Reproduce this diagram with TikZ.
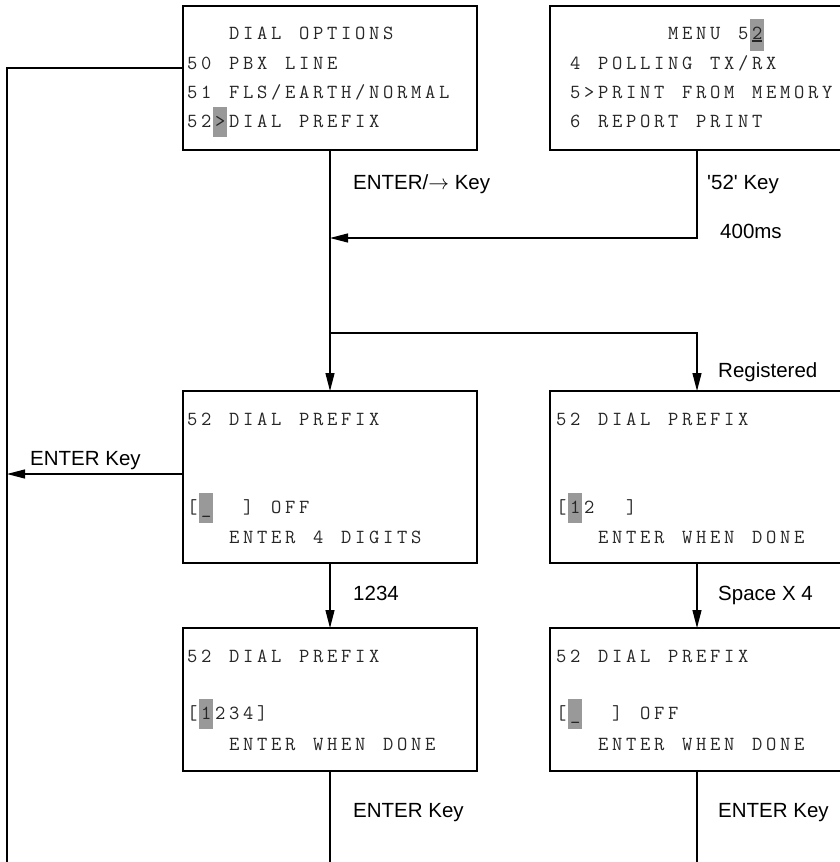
\documentclass[tikz,border=0pt]{standalone}
\usepackage{fontspec}
\setmainfont{Liberation Sans}
\usetikzlibrary{arrows.meta}
\definecolor{curgray}{RGB}{153,153,153}
\ExplSyntaxOn
\NewDocumentCommand \lcd { m }
 {
  \str_map_inline:nn { #1 }
   {
    \str_if_eq:nnTF { ##1 } { . } { \hspace*{14pt} } { \makebox[14pt][c]{##1} }
   }
 }
\ExplSyntaxOff
\tikzset{
  box/.style={draw=black, line width=1.4pt, minimum width=294pt, minimum height=#1, inner sep=0pt, outer sep=0pt},
  row/.style={anchor=base west, inner sep=0pt, font=\ttfamily\fontsize{20}{20}\selectfont, text=black!85},
  lbl/.style={anchor=base west, inner sep=0pt, font=\fontsize{20.5}{24}\selectfont},
  arr/.style={-{Triangle[length=18pt,width=9pt]}, line width=1.2pt},
  ln/.style={line width=1.2pt},
  cur/.style={fill=curgray}
}
\begin{document}
\begin{tikzpicture}[x=1pt,y=-1pt]
\useasboundingbox (0,0) rectangle (840,862);
\clip (0,0) rectangle (840,862);
% boxes
\node[box=144pt] (tl) at (330,78) {};
\node[box=144pt] (tr) at (697,78) {};
\node[box=172pt] (ml) at (330,477) {};
\node[box=172pt] (mr) at (697,477) {};
\node[box=143pt] (bl) at (330,699.5) {};
\node[box=143pt] (br) at (697,699.5) {};
% cursors
\fill[cur] (213,107) rectangle (227,137);
\fill[cur] (750,19) rectangle (764,51);
\fill[cur] (199,493) rectangle (213,523);
\fill[cur] (568,493) rectangle (582,523);
\fill[cur] (199,699) rectangle (213,729);
\fill[cur] (568,699) rectangle (582,729);
% top-left text
\node[row] (tl1) at (185,39.5) {\lcd{...DIAL.OPTIONS}};
\node[row] (tl2) at (185,69.5) {\lcd{50.PBX.LINE}};
\node[row] (tl3) at (185,98.5) {\lcd{51.FLS/EARTH/NORMAL}};
\node[row] (tl4) at (185,127.5) {\lcd{52>DIAL.PREFIX}};
% top-right text
\node[row] (tr1) at (554,39.5) {\lcd{........MENU.52}};
\draw[line width=1.5pt, black!85] (752,41) -- (762,41);
\node[row] (tr2) at (554,69.5) {\lcd{.4.POLLING.TX/RX}};
\node[row] (tr3) at (554,98.5) {\lcd{.5>PRINT.FROM.MEMORY}};
\node[row] (tr4) at (554,127.5) {\lcd{.6.REPORT.PRINT}};
% middle
\node[row] (ml1) at (185,425.5) {\lcd{52.DIAL.PREFIX}};
\node[row] (ml2) at (185,513.5) {\lcd{[_..].OFF}};
\node[row] (ml3) at (185,543.5) {\lcd{...ENTER.4.DIGITS}};
\node[row] (mr1) at (554,425.5) {\lcd{52.DIAL.PREFIX}};
\node[row] (mr2) at (554,513.5) {\lcd{[12..]}};
\node[row] (mr3) at (554,543.5) {\lcd{...ENTER.WHEN.DONE}};
% bottom
\node[row] (bl1) at (185,662.5) {\lcd{52.DIAL.PREFIX}};
\node[row] (bl2) at (185,719.5) {\lcd{[1234]}};
\node[row] (bl3) at (185,750.5) {\lcd{...ENTER.WHEN.DONE}};
\node[row] (br1) at (554,662.5) {\lcd{52.DIAL.PREFIX}};
\node[row] (br2) at (554,719.5) {\lcd{[_..].OFF}};
\node[row] (br3) at (554,750.5) {\lcd{...ENTER.WHEN.DONE}};
% coordinates
\coordinate (j1) at (330,238);
\coordinate (j2) at (330,333);
\coordinate (lt) at (7,68);
\coordinate (lb) at (7,862);
\coordinate (e1) at (330,862);
\coordinate (e2) at (697,862);
% connectors
\draw[arr] (tl.south) -- (ml.north);
\draw[arr] (tr.south) |- (j1);
\draw[arr] (j2) -| (mr.north);
\draw[arr] (ml.south) -- (bl.north);
\draw[arr] (mr.south) -- (br.north);
\draw[ln] (bl.south) -- (e1);
\draw[ln] (br.south) -- (e2);
\draw[ln] (tl.west |- lt) -- (lt) -- (lb);
\draw[arr] ([yshift=3pt]ml.west) -- ([yshift=3pt]ml.west -| lt);
% labels
\node[lbl] (l1) at (353,189) {ENTER/$\rightarrow$ Key};
\node[lbl] (l2) at (707,189) {\textquotesingle 52\textquotesingle{} Key};
\node[lbl] (l3) at (720,238) {400ms};
\node[lbl] (l4) at (718,377) {Registered};
\node[lbl] (l5) at (30,465) {ENTER Key};
\node[lbl] (l6) at (353,600) {1234};
\node[lbl] (l7) at (718,600) {Space X 4};
\node[lbl] (l8) at (353,817) {ENTER Key};
\node[lbl] (l9) at (718,817) {ENTER Key};
\end{tikzpicture}
\end{document}
